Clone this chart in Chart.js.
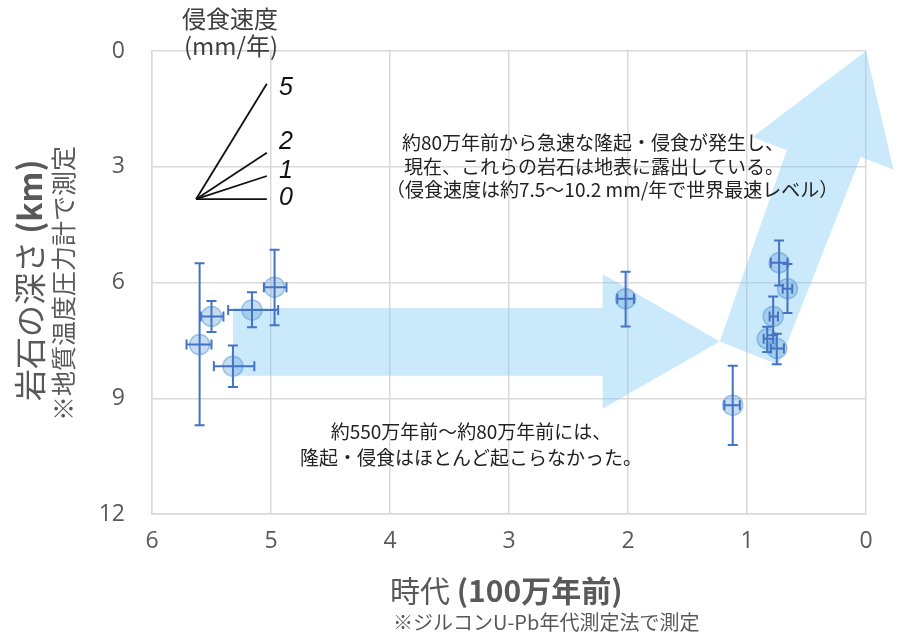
<!DOCTYPE html>
<html><head><meta charset="utf-8">
<script src="https://cdn.jsdelivr.net/npm/chart.js@4.4.1/dist/chart.umd.min.js"></script>
<style>html,body{margin:0;padding:0;background:#fff;} #wrap{width:900px;height:640px;position:relative;}</style>
</head><body><div id="wrap"><canvas id="c" width="900" height="640"></canvas></div>
<script>
// ---- data (age in Ma, depth in km) ----
const ages        = [5.60, 5.50, 5.32, 5.16, 4.97, 2.02, 1.12, 0.73, 0.66, 0.78, 0.83, 0.75];
const depths      = [7.61, 6.88, 8.17, 6.71, 6.12, 6.42, 9.18, 5.49, 6.16, 6.88, 7.46, 7.71];
const ageOld      = [5.71, 5.59, 5.48, 5.36, 5.06, 2.09, 1.19, 0.80, 0.70, 0.81, 0.86, 0.80];
const ageYoung    = [5.50, 5.40, 5.14, 4.94, 4.87, 1.95, 1.06, 0.66, 0.62, 0.74, 0.78, 0.69];
const depthTop    = [5.50, 6.48, 7.63, 6.25, 5.15, 5.72, 8.16, 4.91, 5.52, 6.36, 7.15, 7.33];
const depthBottom = [9.70, 7.28, 8.71, 7.16, 7.11, 7.14, 10.21, 6.08, 6.79, 7.37, 7.80, 8.12];

const xTickValues = [6, 5, 4, 3, 2, 1, 0];
const yTickValues = [0, 3, 6, 9, 12];

// erosion-rate scale lines (mm/yr)
const rateLabels = ['5', '2', '1', '0'];
const rateOriginAge = 5.63, rateOriginDepth = 3.84;
const rateEndAge = 5.035;
const rateEndDepth = [0.85, 2.64, 3.24, 3.84];

// arrow outlines in (age, depth)
const flatArrowAge     = [5.32, 2.213, 2.213, 1.229, 2.213, 2.213, 5.32];
const flatArrowDepth   = [6.66, 6.66, 5.78, 7.53, 9.27, 8.42, 8.42];
const upliftArrowAge   = [1.229, 0.665, 0.954, 0.0, -0.23, 0.045, 0.735];
const upliftArrowDepth = [7.53, 2.57, 2.23, 0.0, 3.07, 2.75, 8.13];

const FONT = '"Noto Sans CJK JP", "Noto Sans", sans-serif';

const decor = {
  id: 'decor',
  beforeDatasetsDraw(chart) {
    const {ctx, scales: {x, y}} = chart;
    ctx.save();
    ctx.beginPath();
    [[flatArrowAge, flatArrowDepth], [upliftArrowAge, upliftArrowDepth]].forEach(([ax, ay]) => {
      ax.forEach((a, i) => {
        const px = x.getPixelForValue(a), py = y.getPixelForValue(ay[i]);
        if (i === 0) ctx.moveTo(px, py); else ctx.lineTo(px, py);
      });
      ctx.closePath();
    });
    ctx.fillStyle = 'rgba(128,203,243,0.42)';
    ctx.fill('nonzero');
    ctx.restore();
  },
  afterDatasetsDraw(chart) {
    const {ctx, scales: {x, y}} = chart;
    ctx.save();
    ctx.strokeStyle = '#4472c4';
    ctx.lineWidth = 2;
    const c = 5;
    ages.forEach((a, i) => {
      const cx = x.getPixelForValue(a), cy = y.getPixelForValue(depths[i]);
      const x1 = x.getPixelForValue(ageOld[i]), x2 = x.getPixelForValue(ageYoung[i]);
      const y1 = y.getPixelForValue(depthTop[i]), y2 = y.getPixelForValue(depthBottom[i]);
      ctx.beginPath();
      ctx.moveTo(x1, cy); ctx.lineTo(x2, cy);
      ctx.moveTo(x1, cy - c); ctx.lineTo(x1, cy + c);
      ctx.moveTo(x2, cy - c); ctx.lineTo(x2, cy + c);
      ctx.moveTo(cx, y1); ctx.lineTo(cx, y2);
      ctx.moveTo(cx - c, y1); ctx.lineTo(cx + c, y1);
      ctx.moveTo(cx - c, y2); ctx.lineTo(cx + c, y2);
      ctx.stroke();
    });
    ctx.restore();
  },
  afterDraw(chart) {
    const ctx = chart.ctx;
    ctx.save();
    ctx.textBaseline = 'middle';
    // rate legend title
    ctx.fillStyle = '#404040';
    ctx.textAlign = 'center';
    ctx.font = '24px ' + FONT;
    ctx.fillText('侵食速度', 230, 19);
    ctx.fillText('(mm/年)', 231, 46);
    // rate labels
    ctx.fillStyle = '#111';
    ctx.font = 'italic 25px "Liberation Sans", Arial, sans-serif';
    const labelY = [88, 142, 171, 198];
    rateLabels.forEach((t, i) => ctx.fillText(t, 286, labelY[i]));
    // annotations
    ctx.fillStyle = '#222';
    ctx.font = '19px ' + FONT;
    ctx.textAlign = 'left';
    ctx.fillText('約80万年前から急速な隆起・侵食が発生し、', 402, 143);
    ctx.fillText('現在、これらの岩石は地表に露出している。', 404, 167);
    ctx.fillText('（侵食速度は約7.5～10.2 mm/年で世界最速レベル）', 386, 190);
    ctx.textAlign = 'center';
    ctx.fillText('約550万年前～約80万年前には、', 471, 432);
    ctx.fillText('隆起・侵食はほとんど起こらなかった。', 471, 458);
    // x title
    ctx.fillStyle = '#595959';
    ctx.textAlign = 'left';
    ctx.font = '30px ' + FONT;
    const t1 = '時代 ';
    const w1 = ctx.measureText(t1).width;
    ctx.fillText(t1, 390, 591);
    ctx.font = 'bold 30px ' + FONT;
    ctx.fillText('(100万年前)', 390 + w1, 591);
    ctx.font = '20px ' + FONT;
    ctx.fillText('※ジルコンU-Pb年代測定法で測定', 393, 622);
    // y title
    ctx.save();
    ctx.translate(30, 401);
    ctx.rotate(-Math.PI / 2);
    ctx.font = '32px ' + FONT;
    const t2 = '岩石の深さ ';
    const w2 = ctx.measureText(t2).width;
    ctx.fillText(t2, 0, 0);
    ctx.font = 'bold 32px ' + FONT;
    ctx.fillText('(km)', w2, 0);
    ctx.restore();
    ctx.save();
    ctx.translate(63, 421);
    ctx.rotate(-Math.PI / 2);
    ctx.font = '25px ' + FONT;
    ctx.fillText('※地質温度圧力計で測定', 0, 0);
    ctx.restore();
    ctx.restore();
  }
};

const datasets = [{
  type: 'scatter',
  data: ages.map((a, i) => ({x: a, y: depths[i]})),
  pointRadius: 10,
  pointHoverRadius: 10,
  backgroundColor: 'rgba(91,155,213,0.35)',
  borderColor: 'rgba(91,155,213,0.55)',
  borderWidth: 1.5,
  showLine: false
}];
rateEndDepth.forEach((d, i) => {
  datasets.push({
    type: 'line',
    label: rateLabels[i],
    data: [{x: rateOriginAge, y: rateOriginDepth}, {x: rateEndAge, y: d}],
    borderColor: '#111',
    borderWidth: 1.8,
    pointRadius: 0,
    fill: false,
    tension: 0
  });
});

new Chart(document.getElementById('c'), {
  type: 'scatter',
  data: {datasets},
  plugins: [decor],
  options: {
    responsive: false,
    animation: false,
    layout: {padding: {top: 51, right: 34, left: 0, bottom: 0}},
    plugins: {legend: {display: false}, tooltip: {enabled: false}},
    scales: {
      x: {
        type: 'linear', reverse: true, min: 0, max: 6,
        afterBuildTicks: s => { s.ticks = xTickValues.map(v => ({value: v})); },
        afterFit: s => { s.height = 126; },
        grid: {color: '#d9d9d9', lineWidth: 1.5, drawTicks: false},
        border: {display: true, color: '#d9d9d9', width: 1.5},
        ticks: {padding: 14, color: '#595959', font: {family: '"Open Sans", sans-serif', size: 23}, callback: v => String(v)}
      },
      y: {
        type: 'linear', reverse: true, min: 0, max: 12,
        afterBuildTicks: s => { s.ticks = yTickValues.map(v => ({value: v})); },
        afterFit: s => { s.width = 152; },
        grid: {color: '#d9d9d9', lineWidth: 1.5, drawTicks: false},
        border: {display: true, color: '#d9d9d9', width: 1.5},
        ticks: {padding: 27, color: '#595959', font: {family: '"Open Sans", sans-serif', size: 23}, callback: v => String(v)}
      }
    }
  }
});
</script>
</body></html>
